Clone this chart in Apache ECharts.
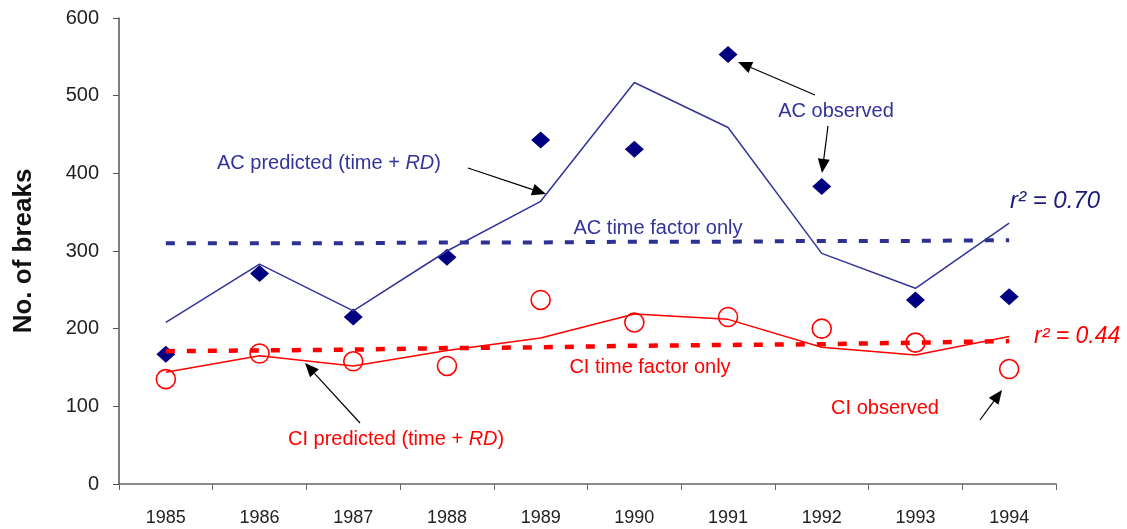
<!DOCTYPE html>
<html>
<head>
<meta charset="utf-8">
<script src="https://cdn.jsdelivr.net/npm/echarts@6/dist/echarts.min.js"></script>
<style>
  html, body { margin: 0; padding: 0; background: #fff; }
  #chart { width: 1127px; height: 529px; }
</style>
</head>
<body>
<div id="chart"></div>
<script>
var years = ['1985', '1986', '1987', '1988', '1989', '1990', '1991', '1992', '1993', '1994'];

var acObserved  = [167, 271, 215, 292, 443, 431, 553, 383, 237, 241];
var acPredicted = [208, 283, 223, 300, 364, 517, 459, 297, 252, 336];
var acTimeOnly  = [310, 310, 310, 311, 311, 312, 312, 313, 313, 314];

var ciObserved  = [135, 168, 158, 152, 237, 208, 215, 200, 182, 148];
var ciPredicted = [144, 165, 152, 172, 188, 219, 212, 176, 166, 190];
var ciTimeOnly  = [171, 172, 173, 175, 176, 178, 179, 180, 182, 184];

var navy = '#000080';
var blue = '#333399';
var red = '#ff0000';
var font = 'Liberation Sans, Arial, sans-serif';

// arrow = line + small filled head
function arrow(x1, y1, x2, y2) {
    var a = Math.atan2(y2 - y1, x2 - x1);
    var len = 14, w = 6;
    var bx = x2 - len * Math.cos(a), by = y2 - len * Math.sin(a);
    var px = -Math.sin(a) * w, py = Math.cos(a) * w;
    return [{
        type: 'line',
        shape: { x1: x1, y1: y1, x2: bx, y2: by },
        style: { stroke: '#000', lineWidth: 1.2 }
    }, {
        type: 'polygon',
        shape: { points: [[x2, y2], [bx + px, by + py], [bx - px, by - py]] },
        style: { fill: '#000' }
    }];
}

function label(x, y, text, color, align) {
    return {
        type: 'text', x: x, y: y,
        style: {
            text: text, fill: color, font: '20px ' + font,
            align: align || 'center', verticalAlign: 'middle',
            rich: { i: { fontStyle: 'italic', fontSize: 20, fontFamily: font, fill: color } }
        }
    };
}

var graphics = [].concat(
    arrow(468, 168, 546, 194),
    arrow(815, 95, 738, 62),
    arrow(828, 126, 822, 173),
    arrow(360, 423, 305, 363),
    arrow(980, 420, 1002, 390),
    [
        label(217, 163, 'AC predicted (time + {i|RD})', blue, 'left'),
        label(836, 111, 'AC observed', blue),
        label(658, 228, 'AC time factor only', blue),
        label(650, 367, 'CI time factor only', red),
        label(288, 439, 'CI predicted (time + {i|RD})', red, 'left'),
        label(885, 408, 'CI observed', red),
        {
            type: 'text', x: 1010, y: 201,
            style: { text: 'r² = 0.70', fill: '#1a1a7a', font: 'italic 24px ' + font, verticalAlign: 'middle' }
        },
        {
            type: 'text', x: 1034, y: 337,
            style: { text: 'r² = 0.44', fill: red, font: 'italic 23px ' + font, verticalAlign: 'middle' }
        }
    ]
);

var chart = echarts.init(document.getElementById('chart'));

var option = {
    backgroundColor: '#fff',
    animation: false,
    grid: { left: 119, right: 71, top: 18, bottom: 45 },
    xAxis: {
        type: 'category',
        data: years,
        boundaryGap: true,
        axisLine: { lineStyle: { color: '#666', width: 1.5 } },
        axisTick: { show: true, length: 6, lineStyle: { color: '#666' } },
        axisLabel: { color: '#222', fontSize: 18, fontFamily: font, margin: 25 }
    },
    yAxis: {
        type: 'value',
        min: 0, max: 600, interval: 100,
        name: 'No. of breaks',
        nameLocation: 'middle',
        nameGap: 82,
        nameTextStyle: { fontSize: 26, fontWeight: 'bold', color: '#111', fontFamily: font },
        axisLine: { show: true, lineStyle: { color: '#555', width: 1.5 } },
        axisTick: { show: true, length: 6, lineStyle: { color: '#555' } },
        axisLabel: { color: '#222', fontSize: 20, fontFamily: font, margin: 20 },
        splitLine: { show: false }
    },
    series: [
        {
            name: 'AC time factor only', type: 'line', data: acTimeOnly,
            symbol: 'none', lineStyle: { color: '#2e3192', width: 4, type: [9, 12] }
        },
        {
            name: 'CI time factor only', type: 'line', data: ciTimeOnly,
            symbol: 'none', lineStyle: { color: red, width: 4.5, type: [9, 12] }
        },
        {
            name: 'AC predicted', type: 'line', data: acPredicted,
            symbol: 'none', lineStyle: { color: blue, width: 1.5 }
        },
        {
            name: 'CI predicted', type: 'line', data: ciPredicted,
            symbol: 'none', lineStyle: { color: red, width: 1.5 }
        },
        {
            name: 'AC observed', type: 'scatter', data: acObserved,
            symbol: 'diamond', symbolSize: [19, 17],
            itemStyle: { color: navy, opacity: 1 }
        },
        {
            name: 'CI observed', type: 'scatter', data: ciObserved,
            symbol: 'circle', symbolSize: 19,
            itemStyle: { color: 'rgba(255,255,255,0)', borderColor: red, borderWidth: 1.6, opacity: 1 }
        }
    ],
    graphic: graphics
};

chart.setOption(option);
</script>
</body>
</html>
